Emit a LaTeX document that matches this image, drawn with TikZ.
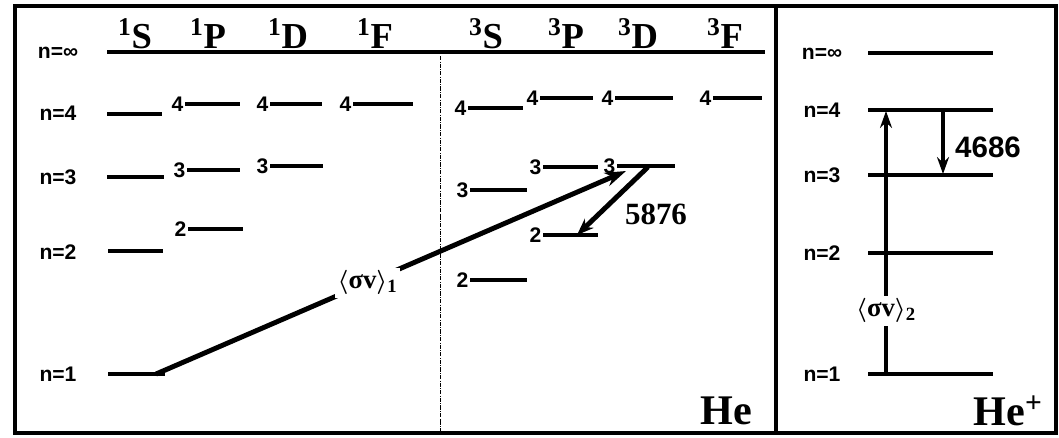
\documentclass[tikz,border=0pt]{standalone}
\usepackage{fontspec}
\setmainfont{Liberation Serif}
\setsansfont{Liberation Sans}
\usetikzlibrary{arrows.meta}

\tikzset{
  lvl/.style={line width=2.8pt},
  nlab/.style={font=\sffamily\bfseries\fontsize{15}{15}\selectfont},
  num/.style={font=\sffamily\bfseries\fontsize{15}{15}\selectfont,anchor=east,inner sep=1pt},
  term/.style={font=\bfseries\fontsize{26}{26}\selectfont,anchor=base},
  atom/.style={font=\bfseries\fontsize{30}{30}\selectfont},
  rate/.style={fill=white,inner sep=2pt,font=\bfseries\boldmath\fontsize{19}{19}\selectfont},
}

\begin{document}
\begin{tikzpicture}[x=0.025cm,y=-0.025cm,>=Stealth]
  \useasboundingbox (0,0) rectangle (1059,437);
  % frame and panels
  \draw[line width=3.5pt] (15,6) rectangle (1056,433);
  \draw[line width=3.5pt] (776,6) -- (776,433);
  \draw[thin,densely dashdotted] (440,56) -- (440,433);

  % He: term headers
  \node[term] (s1) at (135,48) {\textsuperscript{1}S};
  \node[term] (p1) at (208,48) {\textsuperscript{1}P};
  \node[term] (d1) at (288,48) {\textsuperscript{1}D};
  \node[term] (f1) at (375,48) {\textsuperscript{1}F};
  \node[term] (s3) at (486,48) {\textsuperscript{3}S};
  \node[term] (p3) at (566,48) {\textsuperscript{3}P};
  \node[term] (d3) at (638,48) {\textsuperscript{3}D};
  \node[term] (f3) at (725,48) {\textsuperscript{3}F};

  % He: principal quantum numbers
  \node[nlab] (ninf) at (58,53) {n=∞};
  \node[nlab] (nfour) at (58,113) {n=4};
  \node[nlab] (nthree) at (58,177) {n=3};
  \node[nlab] (ntwo) at (58,252) {n=2};
  \node[nlab] (none) at (58,374) {n=1};

  % He: levels
  \draw[lvl] (107,52) -- (765,52);
  \draw[lvl] (107,114) -- (162,114);
  \draw[lvl] (107,177) -- (164,177);
  \draw[lvl] (108,251) -- (163,251);
  \draw[lvl] (108,374) -- (165,374);
  \foreach \xa/\xb/\yy/\lab [count=\i] in
    {185/240/104/4, 187/240/170/3, 188/243/229/2,
     270/322/104/4, 270/323/166/3, 353/413/104/4,
     468/523/108/4, 470/527/190/3, 470/527/280/2,
     540/593/98/4, 543/598/167/3, 543/598/235/2,
     615/673/98/4, 617/675/166/3, 713/762/98/4}
  {
    \draw[lvl] (\xa,\yy) -- (\xb,\yy);
    \node[num] (k\i) at (\xa,\yy) {\lab};
  }

  % He: transitions
  \coordinate (gnd) at (156,374);
  \coordinate (dthree) at (626,171);
  \coordinate (dtop) at (648,167);
  \coordinate (ptwo) at (577,235);
  \draw[-{Stealth[length=15pt,width=10pt]},line width=3.5pt] (gnd) --
    node[rate,pos=0.45] (sv1) {$\langle$σv$\rangle$\textsubscript{1}} (dthree);
  \draw[-{Stealth[length=12pt,width=9pt]},line width=3.5pt] (dtop) -- (ptwo);
  \node[font=\bfseries\fontsize{22}{22}\selectfont] (w5876) at (656,214) {5876};
  \node[atom] (he) at (726,411) {He};

  % He+
  \node[nlab] (rinf) at (822,54) {n=∞};
  \node[nlab] (rfour) at (822,110) {n=4};
  \node[nlab] (rthree) at (822,175) {n=3};
  \node[nlab] (rtwo) at (822,253) {n=2};
  \node[nlab] (rone) at (822,374) {n=1};
  \foreach \yy in {53,110,175,253,374}
    \draw[lvl] (868,\yy) -- (993,\yy);
  \coordinate (ione) at (886,374);
  \coordinate (ifour) at (886,111);
  \coordinate (jfour) at (943,111);
  \coordinate (jthree) at (943,174);
  \draw[-{Stealth[length=12pt,width=8.5pt]},line width=2.8pt] (ione) --
    node[rate,pos=0.24] (sv2) {$\langle$σv$\rangle$\textsubscript{2}} (ifour);
  \draw[-{Stealth[length=12pt,width=8.5pt]},line width=2.8pt] (jfour) -- (jthree);
  \node[font=\sffamily\bfseries\fontsize{21}{21}\selectfont] (w4686) at (988,147) {4686};
  \node[atom] (hep) at (1008,411) {He\textsuperscript{+}};
\end{tikzpicture}
\end{document}
